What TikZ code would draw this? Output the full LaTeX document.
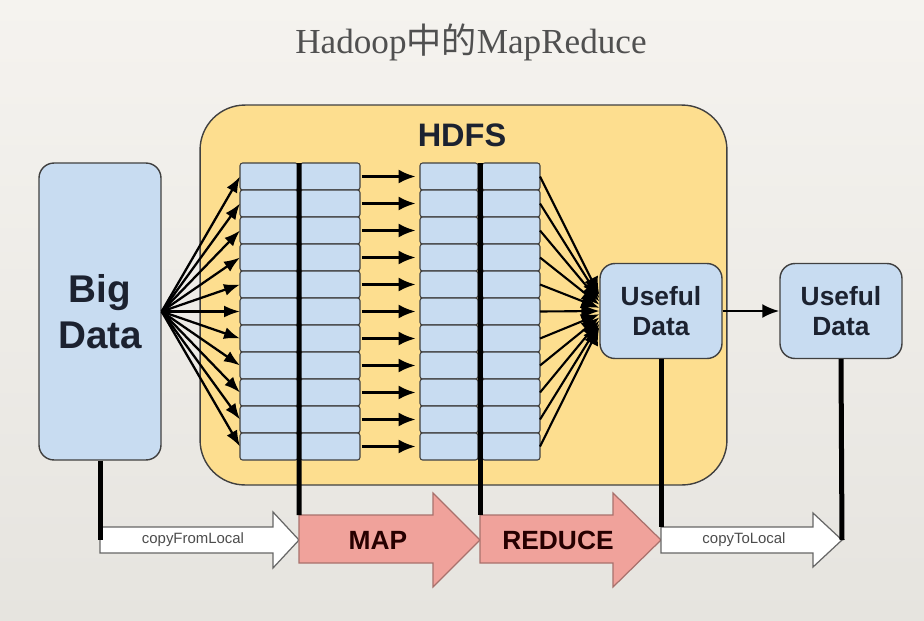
\documentclass[tikz,border=0pt]{standalone}
\usepackage{fontspec}
\setmainfont{Liberation Serif}
\setsansfont{Liberation Sans}
\newfontfamily\cjk{Noto Sans CJK SC}
\usetikzlibrary{arrows.meta,calc}
\definecolor{HDFSYellow}{HTML}{FDDE8F}
\definecolor{SlotBlue}{HTML}{C8DCF1}
\definecolor{JobPink}{HTML}{F0A29B}
\definecolor{EdgeGray}{HTML}{404040}
\definecolor{BackTop}{HTML}{F5F3EF}
\definecolor{BackBottom}{HTML}{E6E4DF}
\definecolor{TitleGray}{HTML}{505050}
\definecolor{InkNavy}{HTML}{1C2230}

\begin{document}
\begin{tikzpicture}[
  x=0.02cm, y=-0.02cm,
  slot/.style={draw=EdgeGray, fill=SlotBlue, rounded corners=1.5pt, line width=0.6pt, inner sep=0pt, outer sep=0pt, minimum height=0.54cm},
  databox/.style={draw=EdgeGray, fill=SlotBlue, rounded corners=0.3cm, line width=0.8pt, align=center, font=\sffamily\bfseries, text=InkNavy, inner sep=0pt},
  fan/.style={-{Latex[length=3.2mm,width=2.4mm]}, line width=1.3pt},
  pass/.style={-{Latex[length=3.4mm,width=2.8mm]}, line width=1.5pt},
  merge/.style={-{Latex[length=3.6mm,width=3mm]}, line width=1.2pt},
  bar/.style={line width=0.1cm, line cap=butt},
  copyarrow/.style={draw=EdgeGray!80, fill=white, line width=0.7pt, line join=miter},
  jobarrow/.style={draw=JobPink!70!black, fill=JobPink, line width=0.7pt, line join=miter},
  joblabel/.style={font=\sffamily\bfseries\fontsize{15}{18}\selectfont, text=black!85!red},
  copylabel/.style={font=\sffamily\fontsize{8.5}{10}\selectfont, text=black!70}
]
% background
\shade[top color=BackTop, bottom color=BackBottom] (0,0) rectangle (924,620);
\useasboundingbox (0,0) rectangle (924,620);

\node[anchor=base, text=TitleGray, font=\fontsize{20}{24}\selectfont] (title) at (471,53) {Hadoop{\cjk 中的}MapReduce};

% HDFS area
\node[draw=EdgeGray, fill=HDFSYellow, rounded corners=0.9cm, line width=0.8pt, minimum width=10.54cm, minimum height=7.6cm] (hdfs) at (463.5,295) {};
\node[font=\sffamily\bfseries\fontsize{18.5}{22}\selectfont, text=InkNavy] (hdfsLabel) at (462,135) {HDFS};

% data boxes
\node[databox, minimum width=2.44cm, minimum height=5.94cm, font=\sffamily\bfseries\fontsize{22}{26}\selectfont] (big) at (100,311.5) {Big\\Data};
\node[databox, minimum width=2.44cm, minimum height=1.9cm, font=\sffamily\bfseries\fontsize{15}{17.5}\selectfont] (useA) at (661,311) {Useful\\Data};
\node[databox, minimum width=2.44cm, minimum height=1.9cm, font=\sffamily\bfseries\fontsize{15}{17.5}\selectfont] (useB) at (841,311) {Useful\\Data};

% split slots
\foreach \i in {0,...,10} {
  \node[slot, minimum width=1.16cm] (La\i) at (269,{176.5+27*\i}) {};
  \node[slot, minimum width=1.20cm] (Lb\i) at (330,{176.5+27*\i}) {};
  \node[slot, minimum width=1.16cm] (Ra\i) at (449,{176.5+27*\i}) {};
  \node[slot, minimum width=1.16cm] (Rb\i) at (511,{176.5+27*\i}) {};
}

% fan out, shuffle, fan in
\foreach \i in {0,...,10} {
  \draw[fan] (big.east) -- (La\i.west);
  \draw[pass, shorten >=2.5pt, shorten <=1pt] (Lb\i.east) -- (Ra\i.west);
  \draw[merge] (Rb\i.east) -- ($(useA.west)+(0,{3.2*(\i-5)})$);
}
\draw[pass] (useA.east) -- (useB.west);

% job arrows
\draw[copyarrow] (100,527) -- (273,527) -- (273,512) -- (299,540) -- (273,568) -- (273,553) -- (100,553) -- cycle;
\draw[jobarrow] (299,515) -- (433,515) -- (433,493) -- (480,540) -- (433,587) -- (433,563) -- (299,563) -- cycle;
\draw[jobarrow] (480,515) -- (613,515) -- (613,493) -- (661,540) -- (613,587) -- (613,563) -- (480,563) -- cycle;
\draw[copyarrow] (661,527) -- (813,527) -- (813,513) -- (842,540) -- (813,567) -- (813,553) -- (661,553) -- cycle;
\coordinate (cflTail) at (100,540);
\coordinate (mapTop) at (299,515);
\coordinate (reduceTop) at (480,515);
\coordinate (ctlTop) at (661,527);
\coordinate (ctlTip) at (842,540);

\node[copylabel] (cflLabel) at (193,540) {copyFromLocal};
\node[joblabel] (mapLabel) at (378,540) {MAP};
\node[joblabel] (reduceLabel) at (558,540) {REDUCE};
\node[copylabel] (ctlLabel) at (744,540) {copyToLocal};

% thick bars
\draw[bar] (big.south) -- (cflTail);
\draw[bar] ($(La0.north east)!.5!(Lb0.north west)$) -- (mapTop);
\draw[bar] ($(Ra0.north east)!.5!(Rb0.north west)$) -- (reduceTop);
\draw[bar] (useA.south) -- (ctlTop);
\draw[bar] (useB.south) -- (ctlTip);
\end{tikzpicture}
\end{document}
